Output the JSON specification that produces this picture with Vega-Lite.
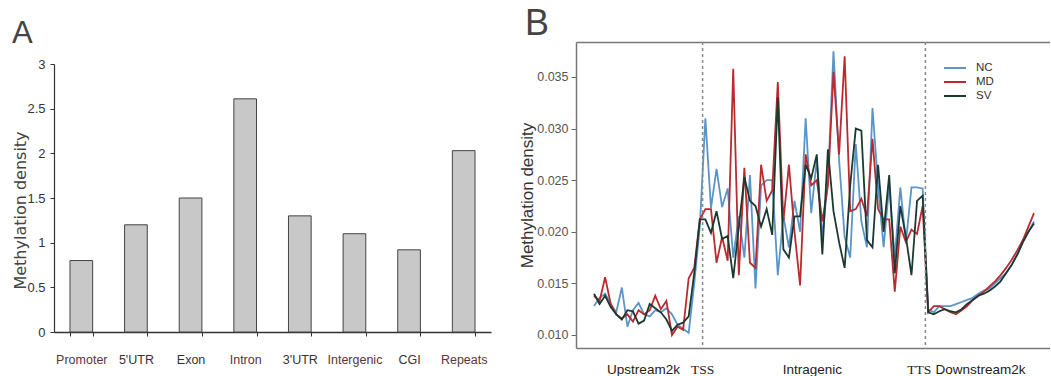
{
  "$schema": "https://vega.github.io/schema/vega-lite/v6.json",
  "background": "white",
  "padding": {"left": 12, "top": 6, "right": 0, "bottom": 0},
  "config": {"view": {"stroke": null}, "font": "Liberation Sans"},
  "spacing": 85,
  "bounds": "flush",
  "resolve": {"scale": {"color": "independent"}, "legend": {"color": "independent"}},
  "hconcat": [
    {
      "width": 437,
      "height": 290,
      "title": {"text": "A", "anchor": "start", "frame": "group", "dx": -42, "offset": -32, "baseline": "alphabetic", "fontSize": 31, "font": "Liberation Sans", "fontWeight": "normal", "color": "#444"},
      "data": {"values": [
        {"region": "Promoter", "density": 0.8},
        {"region": "5'UTR", "density": 1.2},
        {"region": "Exon", "density": 1.5},
        {"region": "Intron", "density": 2.61},
        {"region": "3'UTR", "density": 1.3},
        {"region": "Intergenic", "density": 1.1},
        {"region": "CGI", "density": 0.92},
        {"region": "Repeats", "density": 2.03}
      ]},
      "mark": {"type": "bar", "fill": "#c8c8c8", "stroke": "#444", "strokeWidth": 1},
      "encoding": {
        "x": {
          "field": "region", "type": "nominal", "sort": null,
          "scale": {"paddingInner": 0.585, "paddingOuter": 0.2925},
          "axis": {
            "title": null, "labelAngle": 0, "domainColor": "#333", "domainWidth": 1.5,
            "tickBand": "extent", "tickColor": "#333", "tickSize": 4,
            "labelFont": "Liberation Sans", "labelFontSize": 12.5, "labelPadding": 17,
            "labelColor": {"condition": {"test": "indexof(['Promoter','Intron','Intergenic','Repeats'], datum.value) >= 0", "value": "#5a3636"}, "value": "#333"}
          }
        },
        "y": {
          "field": "density", "type": "quantitative",
          "scale": {"domain": [0, 3], "range": [290, 22], "nice": false},
          "axis": {
            "title": "Methylation density", "titleFont": "DejaVu Sans", "titleFontSize": 16,
            "titleFontWeight": "normal", "titleColor": "#444", "titleX": -34, "titleY": 168,
            "titleBaseline": "middle", "titleAlign": "center", "titleAngle": 270,
            "values": [0, 0.5, 1, 1.5, 2, 2.5, 3], "format": ".1~f",
            "labelFont": "Liberation Sans", "labelFontSize": 13, "labelColor": "#333", "labelPadding": 5,
            "tickSize": 4, "tickColor": "#333", "domainColor": "#333", "domainWidth": 1.2, "grid": false
          }
        }
      }
    },
    {
      "width": 474,
      "height": 306,
      "title": {"text": "B", "anchor": "start", "frame": "group", "dx": -51, "offset": -30, "baseline": "alphabetic", "fontSize": 36, "font": "Liberation Sans", "fontWeight": "normal", "color": "#444"},
      "layer": [
        {
          "data": {"values": [
            {"i": 1, "NC": 0.0128, "MD": 0.0138, "SV": 0.0140},
            {"i": 2, "NC": 0.0136, "MD": 0.0133, "SV": 0.0130},
            {"i": 3, "NC": 0.0140, "MD": 0.0156, "SV": 0.0138},
            {"i": 4, "NC": 0.0130, "MD": 0.0130, "SV": 0.0127},
            {"i": 5, "NC": 0.0122, "MD": 0.0120, "SV": 0.0120},
            {"i": 6, "NC": 0.0146, "MD": 0.0116, "SV": 0.0115},
            {"i": 7, "NC": 0.0108, "MD": 0.0120, "SV": 0.0124},
            {"i": 8, "NC": 0.0124, "MD": 0.0113, "SV": 0.0123},
            {"i": 9, "NC": 0.0131, "MD": 0.0124, "SV": 0.0111},
            {"i": 10, "NC": 0.0120, "MD": 0.0120, "SV": 0.0114},
            {"i": 11, "NC": 0.0118, "MD": 0.0124, "SV": 0.0130},
            {"i": 12, "NC": 0.0124, "MD": 0.0138, "SV": 0.0126},
            {"i": 13, "NC": 0.0122, "MD": 0.0125, "SV": 0.0122},
            {"i": 14, "NC": 0.0126, "MD": 0.0133, "SV": 0.0115},
            {"i": 15, "NC": 0.0120, "MD": 0.0100, "SV": 0.0104},
            {"i": 16, "NC": 0.0110, "MD": 0.0108, "SV": 0.0110},
            {"i": 17, "NC": 0.0106, "MD": 0.0105, "SV": 0.0112},
            {"i": 18, "NC": 0.0102, "MD": 0.0155, "SV": 0.0118},
            {"i": 19, "NC": 0.0150, "MD": 0.0165, "SV": 0.0160},
            {"i": 20, "NC": 0.0205, "MD": 0.0212, "SV": 0.0212},
            {"i": 21, "NC": 0.0310, "MD": 0.0222, "SV": 0.0212},
            {"i": 22, "NC": 0.0223, "MD": 0.0222, "SV": 0.0199},
            {"i": 23, "NC": 0.0261, "MD": 0.0170, "SV": 0.0220},
            {"i": 24, "NC": 0.0224, "MD": 0.0195, "SV": 0.0193},
            {"i": 25, "NC": 0.0242, "MD": 0.0172, "SV": 0.0196},
            {"i": 26, "NC": 0.0175, "MD": 0.0358, "SV": 0.0155},
            {"i": 27, "NC": 0.0215, "MD": 0.0158, "SV": 0.0205},
            {"i": 28, "NC": 0.0175, "MD": 0.0262, "SV": 0.0253},
            {"i": 29, "NC": 0.0255, "MD": 0.0170, "SV": 0.0230},
            {"i": 30, "NC": 0.0145, "MD": 0.0165, "SV": 0.0225},
            {"i": 31, "NC": 0.0245, "MD": 0.0265, "SV": 0.0205},
            {"i": 32, "NC": 0.0250, "MD": 0.0230, "SV": 0.0222},
            {"i": 33, "NC": 0.0250, "MD": 0.0240, "SV": 0.0197},
            {"i": 34, "NC": 0.0158, "MD": 0.0345, "SV": 0.0330},
            {"i": 35, "NC": 0.0215, "MD": 0.0210, "SV": 0.0183},
            {"i": 36, "NC": 0.0185, "MD": 0.0265, "SV": 0.0175},
            {"i": 37, "NC": 0.0230, "MD": 0.0200, "SV": 0.0215},
            {"i": 38, "NC": 0.0200, "MD": 0.0148, "SV": 0.0215},
            {"i": 39, "NC": 0.0310, "MD": 0.0275, "SV": 0.0265},
            {"i": 40, "NC": 0.0218, "MD": 0.0245, "SV": 0.0252},
            {"i": 41, "NC": 0.0270, "MD": 0.0250, "SV": 0.0275},
            {"i": 42, "NC": 0.0195, "MD": 0.0210, "SV": 0.0178},
            {"i": 43, "NC": 0.0250, "MD": 0.0245, "SV": 0.0280},
            {"i": 44, "NC": 0.0375, "MD": 0.0355, "SV": 0.0220},
            {"i": 45, "NC": 0.0270, "MD": 0.0275, "SV": 0.0190},
            {"i": 46, "NC": 0.0195, "MD": 0.0370, "SV": 0.0165},
            {"i": 47, "NC": 0.0175, "MD": 0.0220, "SV": 0.0245},
            {"i": 48, "NC": 0.0285, "MD": 0.0222, "SV": 0.0300},
            {"i": 49, "NC": 0.0210, "MD": 0.0232, "SV": 0.0298},
            {"i": 50, "NC": 0.0185, "MD": 0.0215, "SV": 0.0192},
            {"i": 51, "NC": 0.0320, "MD": 0.0290, "SV": 0.0185},
            {"i": 52, "NC": 0.0245, "MD": 0.0222, "SV": 0.0265},
            {"i": 53, "NC": 0.0185, "MD": 0.0212, "SV": 0.0200},
            {"i": 54, "NC": 0.0245, "MD": 0.0212, "SV": 0.0255},
            {"i": 55, "NC": 0.0175, "MD": 0.0142, "SV": 0.0160},
            {"i": 56, "NC": 0.0243, "MD": 0.0205, "SV": 0.0225},
            {"i": 57, "NC": 0.0190, "MD": 0.0190, "SV": 0.0195},
            {"i": 58, "NC": 0.0243, "MD": 0.0202, "SV": 0.0158},
            {"i": 59, "NC": 0.0243, "MD": 0.0198, "SV": 0.0230},
            {"i": 60, "NC": 0.0242, "MD": 0.0225, "SV": 0.0235},
            {"i": 61, "NC": 0.0125, "MD": 0.0122, "SV": 0.0122},
            {"i": 62, "NC": 0.0122, "MD": 0.0128, "SV": 0.0120},
            {"i": 63, "NC": 0.0128, "MD": 0.0128, "SV": 0.0123},
            {"i": 64, "NC": 0.0128, "MD": 0.0125, "SV": 0.0125},
            {"i": 65, "NC": 0.0128, "MD": 0.0122, "SV": 0.0123},
            {"i": 66, "NC": 0.0130, "MD": 0.0120, "SV": 0.0122},
            {"i": 67, "NC": 0.0132, "MD": 0.0124, "SV": 0.0125},
            {"i": 68, "NC": 0.0134, "MD": 0.0128, "SV": 0.0130},
            {"i": 69, "NC": 0.0136, "MD": 0.0134, "SV": 0.0134},
            {"i": 70, "NC": 0.0140, "MD": 0.0138, "SV": 0.0138},
            {"i": 71, "NC": 0.0143, "MD": 0.0142, "SV": 0.0140},
            {"i": 72, "NC": 0.0145, "MD": 0.0147, "SV": 0.0143},
            {"i": 73, "NC": 0.0150, "MD": 0.0152, "SV": 0.0147},
            {"i": 74, "NC": 0.0155, "MD": 0.0158, "SV": 0.0152},
            {"i": 75, "NC": 0.0160, "MD": 0.0165, "SV": 0.0160},
            {"i": 76, "NC": 0.0168, "MD": 0.0173, "SV": 0.0168},
            {"i": 77, "NC": 0.0178, "MD": 0.0182, "SV": 0.0178},
            {"i": 78, "NC": 0.0190, "MD": 0.0192, "SV": 0.0190},
            {"i": 79, "NC": 0.0200, "MD": 0.0205, "SV": 0.0200},
            {"i": 80, "NC": 0.0210, "MD": 0.0218, "SV": 0.0208}
          ]},
          "transform": [{"fold": ["NC", "MD", "SV"], "as": ["series", "value"]}],
          "mark": {"type": "line", "strokeWidth": 1.8},
          "encoding": {
            "x": {
              "field": "i", "type": "quantitative",
              "scale": {"domain": [-2.23, 82.87], "nice": false, "zero": false},
              "axis": {
                "title": null, "values": [9.8, 20.4, 40.1, 59.3, 70.3],
                "labelExpr": "datum.value < 15 ? 'Upstream2k' : datum.value < 30 ? 'TSS' : datum.value < 50 ? 'Intragenic' : datum.value < 65 ? 'TTS' : 'Downstream2k'",
                "labelFont": {"condition": {"test": "(datum.value > 15 && datum.value < 30) || (datum.value > 50 && datum.value < 65)", "value": "Liberation Serif"}, "value": "Liberation Sans"},
                "labelFontSize": 13.5, "labelColor": "#222", "ticks": false, "tickSize": 0,
                "labelPadding": 14, "labelOverlap": false, "labelBound": false, "labelFlush": false,
                "domainColor": "#777", "domainWidth": 1.5, "grid": false
              }
            },
            "y": {
              "field": "value", "type": "quantitative",
              "scale": {"domain": [0.00874, 0.03839], "nice": false, "zero": false},
              "axis": {
                "title": "Methylation density", "titleFont": "Liberation Sans", "titleFontSize": 17,
                "titleFontWeight": "normal", "titleColor": "#333", "titlePadding": 0,
                "values": [0.01, 0.015, 0.02, 0.025, 0.03, 0.035], "format": ".3f",
                "labelFontSize": 12.5, "labelColor": "#555", "labelPadding": 3,
                "tickSize": 5, "tickColor": "#666", "domainColor": "#777", "domainWidth": 1.5, "grid": false
              }
            },
            "color": {
              "field": "series", "type": "nominal",
              "scale": {"domain": ["NC", "MD", "SV"], "range": ["#5b95c8", "#bb2a30", "#1a3a30"]},
              "legend": {
                "title": null, "orient": "none", "legendX": 373, "legendY": 20, "padding": 0,
                "symbolType": "M-2.2,0H2.2", "symbolStrokeWidth": 2, "symbolSize": 100,
                "rowPadding": 2, "labelFontSize": 11.5, "labelColor": "#333", "labelOffset": 15
              }
            }
          }
        },
        {
          "data": {"values": [{"pos": 20.5}, {"pos": 60.5}]},
          "mark": {"type": "rule", "color": "#888", "strokeDash": [3, 3], "strokeWidth": 1.5},
          "encoding": {
            "x": {
              "field": "pos", "type": "quantitative",
              "axis": {"orient": "top", "labels": false, "ticks": false, "title": null, "domainColor": "#777", "domainWidth": 1.5, "grid": false}
            }
          }
        }
      ],
      "resolve": {"axis": {"x": "independent"}}
    }
  ]
}
